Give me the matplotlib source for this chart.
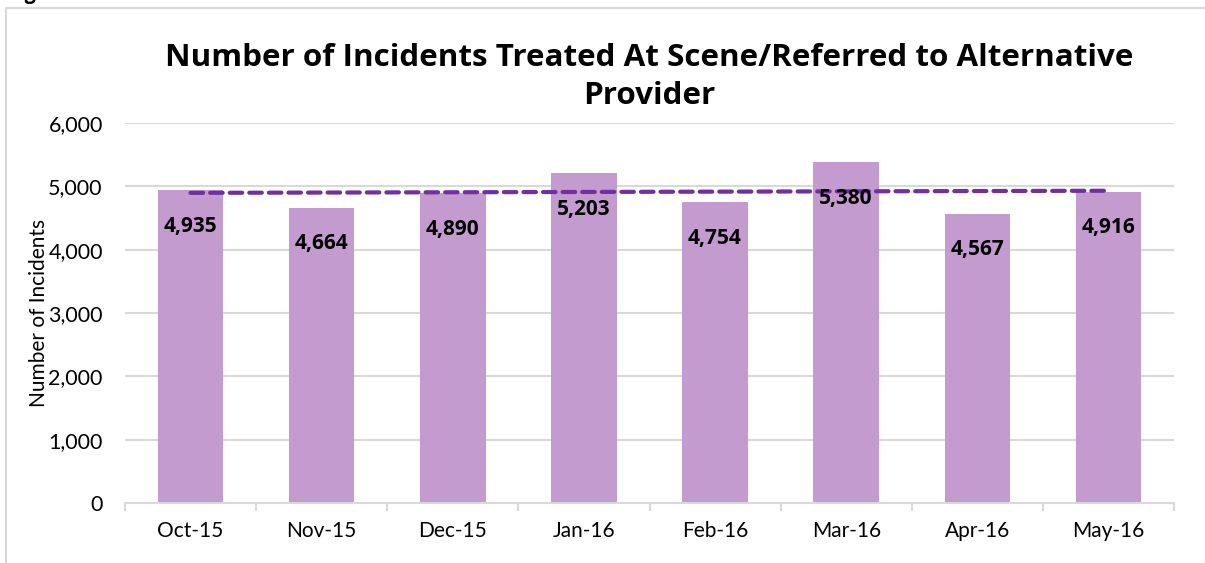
import matplotlib.pyplot as plt
import numpy as np

months = ['Oct-15', 'Nov-15', 'Dec-15', 'Jan-16', 'Feb-16', 'Mar-16', 'Apr-16', 'May-16']
incidents = [4935, 4664, 4890, 5203, 4754, 5380, 4567, 4916]
yticks = [0, 1000, 2000, 3000, 4000, 5000, 6000]

bar_color = '#C39BCE'
trend_color = '#7030A0'
grid_color = '#D9D9D9'
bold_font = ['Open Sans', 'DejaVu Sans']

plt.rcParams['font.family'] = ['Lato', 'DejaVu Sans']

fig = plt.figure(figsize=(12.05, 5.63), dpi=100)
W, H = 1205, 563
# plot area in pixels: x 125..1174, y 123..503
ax = fig.add_axes([125 / W, 1 - 503 / H, (1174 - 125) / W, (503 - 123) / H])

x = np.arange(len(months))
ax.bar(x, incidents, width=0.5, color=bar_color, zorder=2)

# linear trendline through the monthly values
k, b = np.polyfit(x, incidents, 1)
ax.plot([x[0], x[-1]], [k * x[0] + b, k * x[-1] + b], color=trend_color,
        lw=3, ls=(0, (3, 1.7)), zorder=3, dash_capstyle='round')

for xi, v in zip(x, incidents):
    ax.annotate(f'{v:,}', (xi, v), xytext=(0, -26), textcoords='offset points',
                ha='center', va='center', fontsize=15, fontweight='bold',
                family=bold_font, zorder=4)

ax.set_xlim(-0.5, len(months) - 0.5)
ax.set_ylim(0, 6000)
ax.set_yticks(yticks)
ax.set_yticklabels([f'{t:,}' for t in yticks], fontsize=15.5)
ax.set_xticks(x)
ax.set_xticklabels(months, fontsize=15)
ax.set_xticks(np.arange(-0.5, len(months)), minor=True)
ax.tick_params(axis='x', which='major', length=0, pad=13)
ax.tick_params(axis='x', which='minor', length=6, width=1.5, color=grid_color)
ax.tick_params(axis='y', length=0, pad=16)
ax.grid(axis='y', color=grid_color, lw=1.5, zorder=0)
for s in ['top', 'right', 'left']:
    ax.spines[s].set_visible(False)
ax.spines['bottom'].set_color(grid_color)
ax.spines['bottom'].set_linewidth(1.5)

ax.set_ylabel('Number of Incidents', fontsize=15)
ax.yaxis.set_label_coords(-0.072, 0.5)

fig.text(649 / W, 1 - 77 / H, 'Number of Incidents Treated At Scene/Referred to Alternative\nProvider',
         ha='center', va='center', fontsize=22.6, fontweight='bold', family=bold_font,
         linespacing=1.35)

# chart frame (only top and left edges visible)
fig.add_artist(plt.Line2D([6 / W, 6 / W], [0, 1 - 8 / H], color=grid_color, lw=1.5))
fig.add_artist(plt.Line2D([6 / W, 1], [1 - 8 / H, 1 - 8 / H], color=grid_color, lw=1.5))
fig.text(8 / W, 1 + 6 / H, 'Fig. 3', ha='left', va='center', fontsize=14,
         fontweight='bold', family=bold_font)

fig.savefig('out.png', dpi=100)
